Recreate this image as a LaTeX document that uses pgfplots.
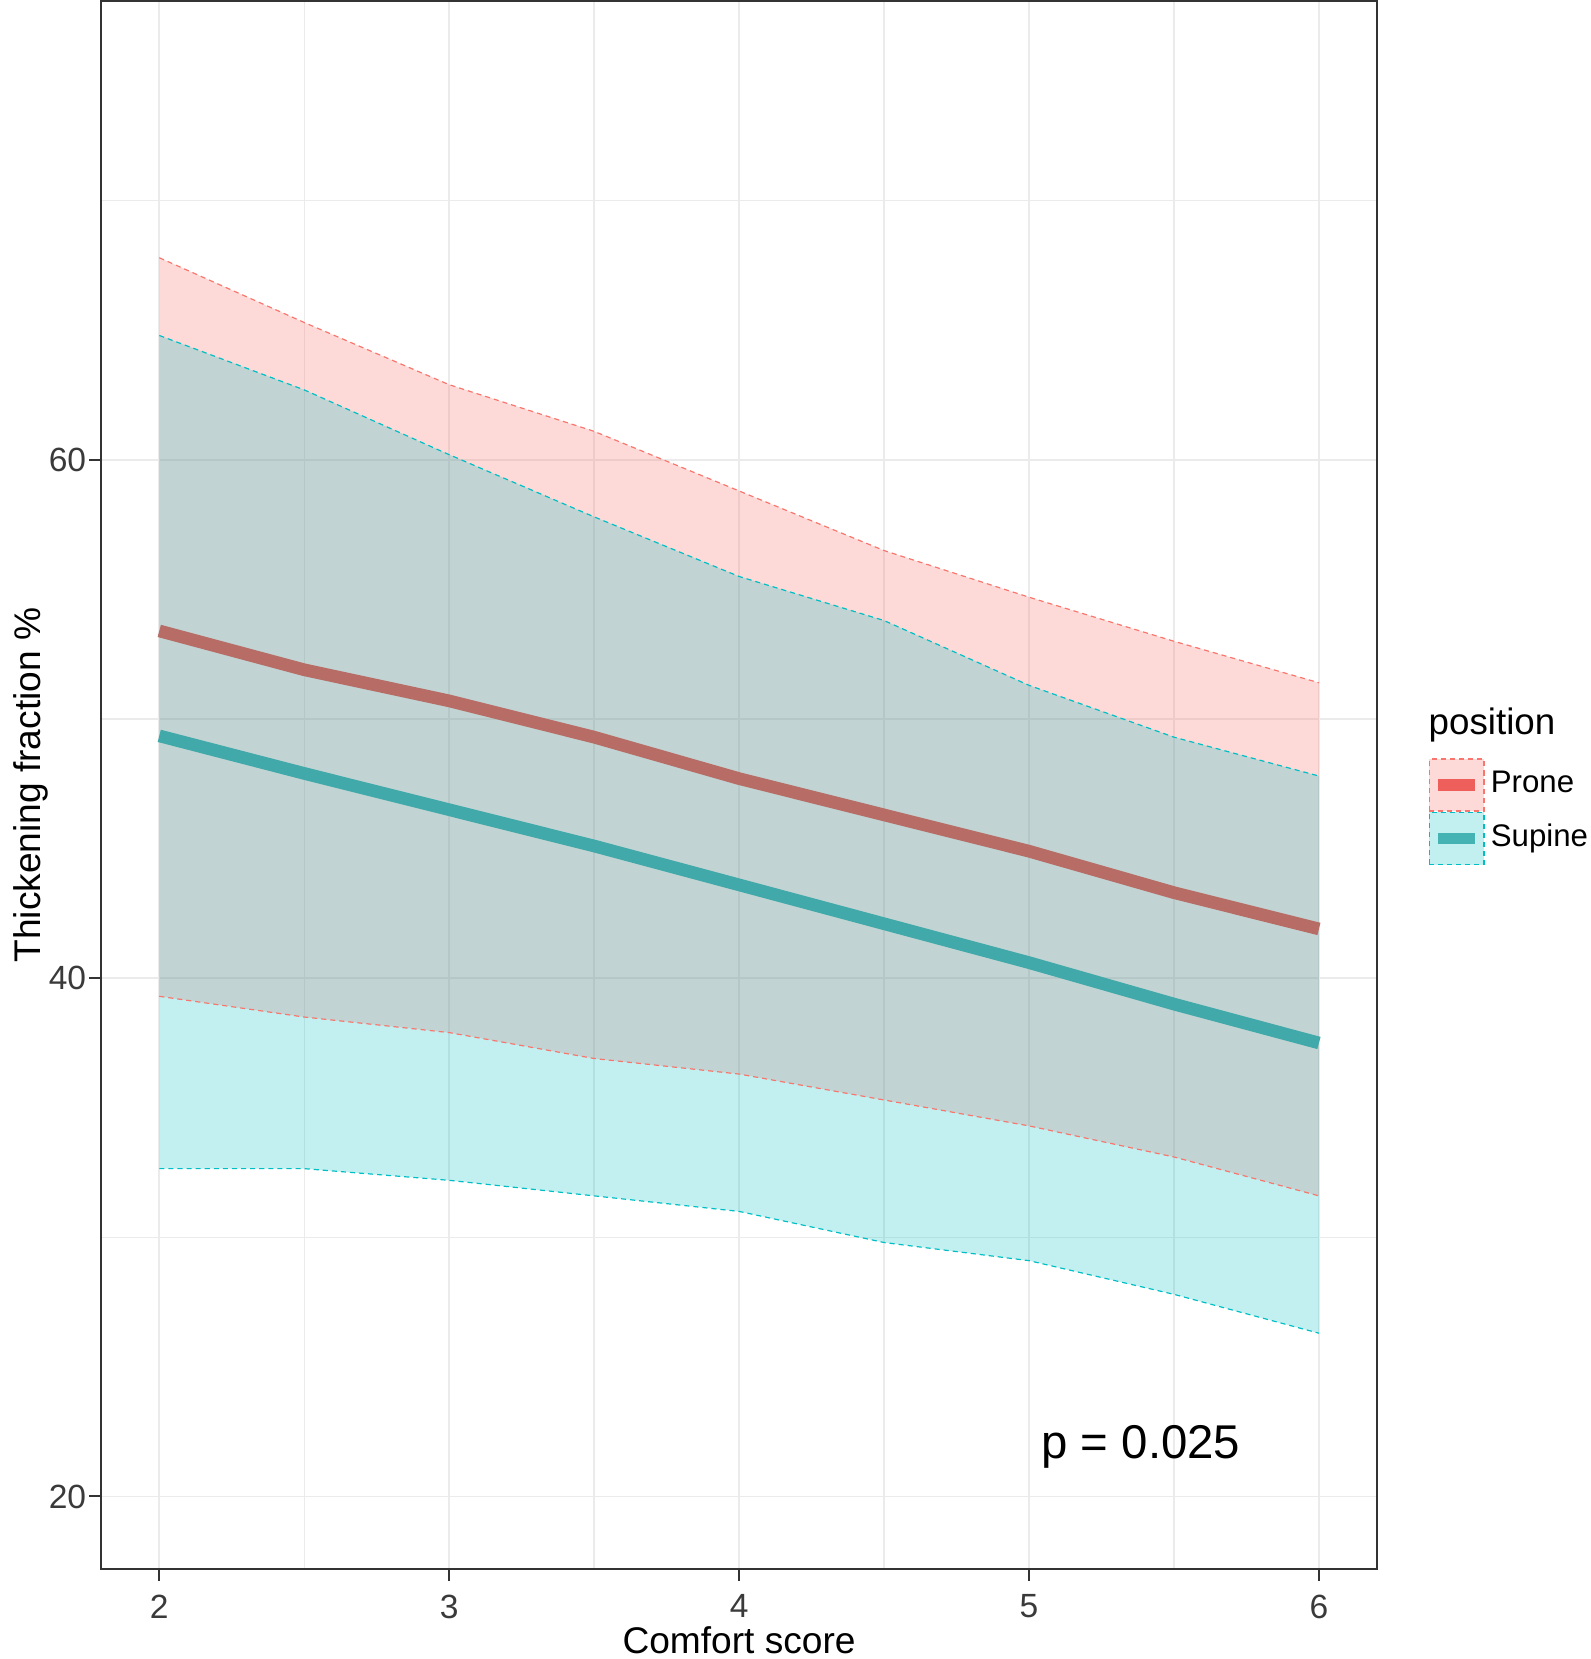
\documentclass[border=0pt]{standalone}
\usepackage{fontspec}
\setmainfont{Liberation Sans}
\usepackage{pgfplots}
\pgfplotsset{compat=1.18}
\usepgfplotslibrary{fillbetween}

\definecolor{prone}{HTML}{F8766D}
\definecolor{supine}{HTML}{00BFC4}
\definecolor{proneline}{HTML}{B86C66}
\definecolor{supineline}{HTML}{41A9AA}
\definecolor{pronekey}{HTML}{EE5F5B}
\definecolor{supinekey}{HTML}{45B2B3}
\definecolor{axtext}{HTML}{333333}
\definecolor{ticktext}{HTML}{3A3A3A}
\definecolor{gridc}{HTML}{EBEBEB}

\begin{document}
\begin{tikzpicture}
\begin{axis}[
  scale only axis,
  width=323pt, height=397pt,
  clip=false,
  xmin=1.8, xmax=6.2, ymin=17.2, ymax=77.7,
  xtick={2,3,4,5,6}, minor xtick={2.5,3.5,4.5,5.5},
  ytick={20,40,60}, minor ytick={30,50,70},
  grid=both,
  major grid style={draw=gridc, line width=0.45pt},
  minor grid style={draw=gridc, line width=0.35pt},
  tick align=outside, major tick length=3pt, minor tick length=0pt,
  tick style={draw=axtext, line width=0.5pt},
  xtick pos=bottom, ytick pos=left,
  axis line style={draw=axtext, line width=0.6pt},
  /pgf/number format/assume math mode=true,
  tick label style={font=\fontsize{8.5}{10}\selectfont, text=ticktext},
  yticklabel style={xshift=2.7pt},
  xlabel={Comfort score}, ylabel={Thickening fraction \%},
  label style={font=\fontsize{9.4}{11}\selectfont},
  xlabel style={yshift=2.6pt, inner sep=1.2pt},
  ylabel style={yshift=-6.6pt},
  legend style={at={(1.040,0.483)}, anchor=west, draw=none, fill=none,
    inner sep=0pt, row sep=0pt, font=\fontsize{7.9}{9}\selectfont,
    nodes={inner sep=0.6pt}},
  legend cell align=left,
]
% Prone ribbon
\addplot[name path=pu, draw=prone, dash pattern=on 1.3pt off 1pt, line width=0.3pt, forget plot] coordinates {
(2,67.8) (2.5,65.3) (3,62.9) (3.5,61.1) (4,58.8) (4.5,56.5) (5,54.7) (5.5,53.0) (6,51.4)};
\addplot[name path=pl, draw=prone, dash pattern=on 1.3pt off 1pt, line width=0.3pt, forget plot] coordinates {
(2,39.3) (2.5,38.5) (3,37.9) (3.5,36.9) (4,36.3) (4.5,35.3) (5,34.3) (5.5,33.1) (6,31.6)};
\addplot[fill=prone, fill opacity=0.27, draw=none, forget plot] fill between[of=pu and pl];
% Supine ribbon
\addplot[name path=su, draw=supine, dash pattern=on 1.3pt off 1pt, line width=0.3pt, forget plot] coordinates {
(2,64.8) (2.5,62.7) (3,60.2) (3.5,57.8) (4,55.5) (4.5,53.8) (5,51.3) (5.5,49.3) (6,47.8)};
\addplot[name path=sl, draw=supine, dash pattern=on 1.3pt off 1pt, line width=0.3pt, forget plot] coordinates {
(2,32.65) (2.5,32.65) (3,32.2) (3.5,31.6) (4,31.0) (4.5,29.8) (5,29.1) (5.5,27.8) (6,26.3)};
\addplot[fill=supine, fill opacity=0.24, draw=none, forget plot] fill between[of=su and sl];
% fitted lines
\addplot[proneline, line width=3.2pt, forget plot] coordinates {
(2,53.4) (2.5,51.9) (3,50.7) (3.5,49.3) (4,47.7) (4.5,46.3) (5,44.9) (5.5,43.3) (6,41.9)};
\addplot[supineline, line width=3.2pt, forget plot] coordinates {
(2,49.35) (2.5,47.9) (3,46.5) (3.5,45.1) (4,43.6) (4.5,42.1) (5,40.6) (5.5,39.0) (6,37.5)};

\addlegendimage{legend image code/.code={
  \draw[fill=prone!27, draw=prone, dash pattern=on 1.3pt off 1pt, line width=0.35pt] (0pt,-6.6pt) rectangle (13.8pt,6.6pt);
  \draw[pronekey, line width=3pt] (2.3pt,0pt) -- (11.5pt,0pt);}}
\addlegendentry{\hspace{1pt}Prone}
\addlegendimage{legend image code/.code={
  \draw[fill=supine!24, draw=supine, dash pattern=on 1.3pt off 1pt, line width=0.35pt] (0pt,-6.6pt) rectangle (13.8pt,6.6pt);
  \draw[supinekey, line width=3pt] (2.3pt,0pt) -- (11.5pt,0pt);}}
\addlegendentry{\hspace{1pt}Supine}

\node[anchor=base west, font=\fontsize{9.3}{11}\selectfont, inner sep=0pt] at (rel axis cs:1.040,0.532) {position};
\node[font=\fontsize{12}{14}\selectfont] at (axis cs:5.386,21.9) {p = 0.025};
\end{axis}
\end{tikzpicture}
\end{document}
